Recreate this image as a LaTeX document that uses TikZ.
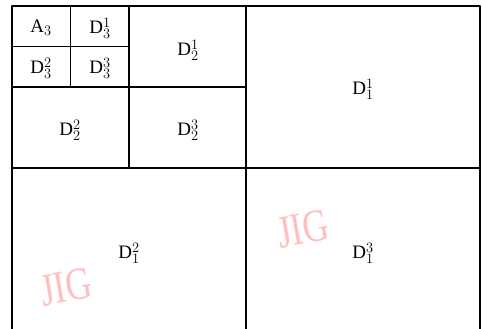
\documentclass[tikz,border=0pt]{standalone}
\usepackage{fontspec}
\setmainfont{Liberation Serif}
\definecolor{jigpink}{rgb}{1.,0.75,0.75}

\begin{document}
\begin{tikzpicture}[line cap=round,line join=round,x=1pt,y=-1pt,
    part/.style={line width=1.3pt},
    lbl/.style={font=\fontsize{19}{22}\selectfont},
    wmark/.style={color=jigpink,font=\fontsize{46}{50}\selectfont,rotate=10,xscale=0.78}]
    \useasboundingbox (0,0) rectangle (482,329);
    \clip (0,0) rectangle (482,329);
    % level 1
    \draw [part] (12,6) rectangle (480,331);
    \draw [part] (246,6) -- (246,331);
    \draw [part] (12,168) -- (480,168);
    % level 2
    \draw [part] (129,6) -- (129,168);
    \draw [part] (12,87) -- (246,87);
    % level 3
    \draw [part] (70.5,6) -- (70.5,87);
    \draw [part] (12,46.5) -- (129,46.5);
    % watermarks
    \node [wmark] (jigA) at (66,287) {JIG};
    \node [wmark] (jigB) at (303,229) {JIG};
    % labels
    \node [lbl] (a3) at (41,28) {$\mathrm{A}_3$};
    \node [lbl] (d31) at (100,28) {$\mathrm{D}_3^1$};
    \node [lbl] (d32) at (41,68) {$\mathrm{D}_3^2$};
    \node [lbl] (d33) at (100,68) {$\mathrm{D}_3^3$};
    \node [lbl] (d21) at (188,50) {$\mathrm{D}_2^1$};
    \node [lbl] (d22) at (70,130) {$\mathrm{D}_2^2$};
    \node [lbl] (d23) at (188,130) {$\mathrm{D}_2^3$};
    \node [lbl] (d11) at (363,89) {$\mathrm{D}_1^1$};
    \node [lbl] (d12) at (129,253) {$\mathrm{D}_1^2$};
    \node [lbl] (d13) at (363,253) {$\mathrm{D}_1^3$};
\end{tikzpicture}
\end{document}
